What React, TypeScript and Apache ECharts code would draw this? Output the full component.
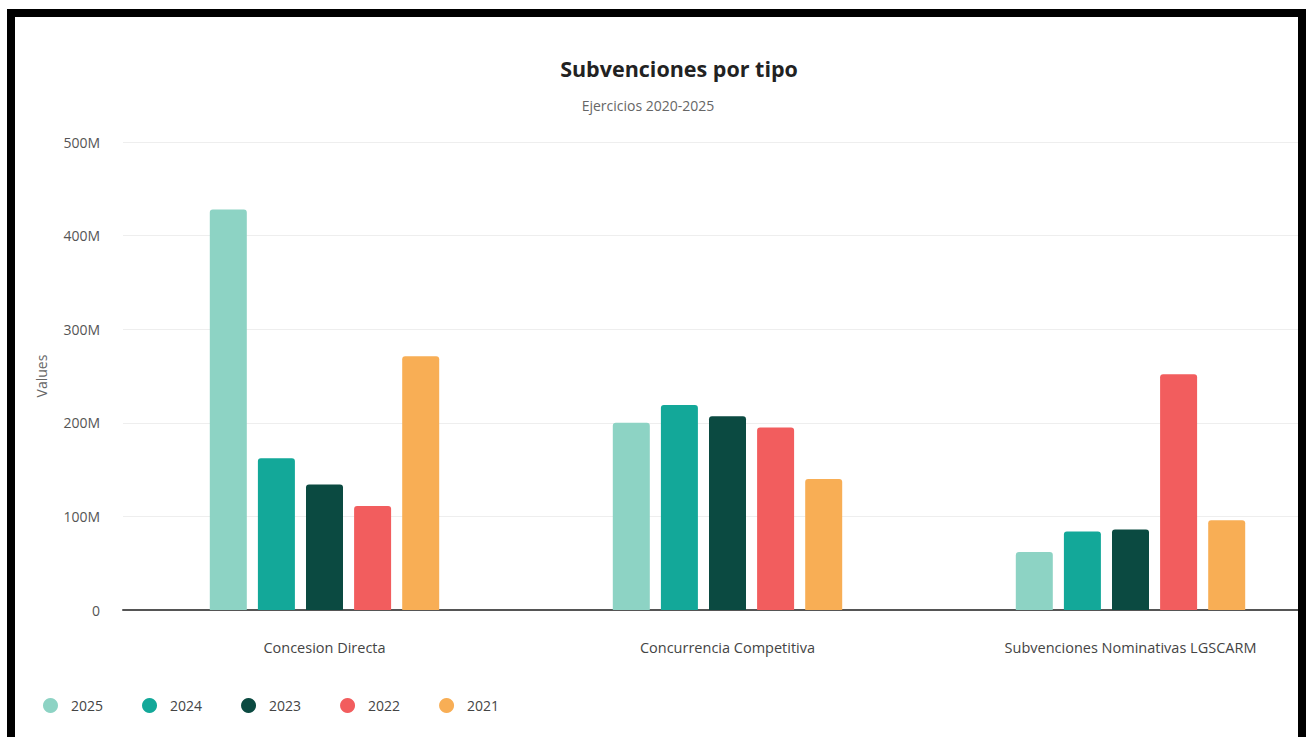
import React, { useEffect, useRef } from "react";
import * as echarts from "echarts";

const categories = ["Concesion Directa", "Concurrencia Competitiva", "Subvenciones Nominativas LGSCARM"];
const years = ["2025", "2024", "2023", "2022", "2021"];
const values2025 = [428e6, 200e6, 62e6];
const values2024 = [162e6, 219e6, 84e6];
const values2023 = [134e6, 207e6, 86e6];
const values2022 = [111e6, 195e6, 252e6];
const values2021 = [271e6, 140e6, 96e6];
const seriesValues = [values2025, values2024, values2023, values2022, values2021];
const colors = ["#8dd3c4", "#13a899", "#0b4a41", "#f25d5e", "#f8ae55"];
const yTicks = ["0", "100M", "200M", "300M", "400M", "500M"];

const FONT = "'Open Sans', 'Noto Sans', sans-serif";

export default function App() {
  const ref = useRef<HTMLDivElement>(null);
  useEffect(() => {
    document.body.style.margin = "0";
    const chart = echarts.init(ref.current!, undefined, { renderer: "svg" });
    chart.setOption({
      animation: false,
      backgroundColor: "#ffffff",
      textStyle: { fontFamily: FONT },
      grid: { left: 123, top: 142, width: 1209, height: 468, containLabel: false },
      legend: {
        data: years,
        left: 38,
        top: 693,
        icon: "circle",
        itemWidth: 15,
        itemHeight: 15,
        itemGap: 39,
        textStyle: { fontSize: 14, color: "#444", fontFamily: FONT, padding: [0, 0, 0, 8] },
      },
      xAxis: {
        type: "category",
        data: categories,
        axisLine: { show: true, lineStyle: { color: "#555", width: 2 } },
        axisTick: { show: false },
        axisLabel: { margin: 30, fontSize: 14.5, color: "#444", fontFamily: FONT },
      },
      yAxis: {
        type: "value",
        min: 0,
        max: 500e6,
        interval: 100e6,
        name: "Values",
        nameLocation: "middle",
        nameGap: 75,
        nameTextStyle: { fontSize: 14, color: "#666", fontFamily: FONT },
        axisLine: { show: false },
        axisTick: { show: false },
        splitLine: { lineStyle: { color: "#eeeeee", width: 1 } },
        axisLabel: {
          margin: 23,
          fontSize: 14,
          color: "#555",
          fontFamily: FONT,
          formatter: (v: number) => yTicks[Math.round(v / 100e6)],
        },
      },
      series: years.map((y, i) => ({
        name: y,
        type: "bar",
        data: seriesValues[i],
        barWidth: 37,
        barGap: "30%",
        itemStyle: { color: colors[i], borderRadius: [3, 3, 0, 0] },
      })),
      graphic: [
        {
          type: "text",
          x: 679,
          y: 68,
          z: 100,
          style: {
            text: "Subvenciones por tipo",
            fontSize: 21.5,
            fontWeight: "bold",
            fontFamily: FONT,
            fill: "#222",
            textAlign: "center",
            textVerticalAlign: "middle",
          },
        },
        {
          type: "text",
          x: 648,
          y: 105,
          z: 100,
          style: {
            text: "Ejercicios 2020-2025",
            fontSize: 14,
            fontFamily: FONT,
            fill: "#666",
            textAlign: "center",
            textVerticalAlign: "middle",
          },
        },
        { type: "rect", z: 200, shape: { x: 7, y: 9, width: 1299, height: 8 }, style: { fill: "#000" } },
        { type: "rect", z: 200, shape: { x: 7, y: 9, width: 8, height: 728 }, style: { fill: "#000" } },
        { type: "rect", z: 200, shape: { x: 1298, y: 9, width: 8, height: 728 }, style: { fill: "#000" } },
      ],
    });
    return () => chart.dispose();
  }, []);
  return (
    <div style={{ position: "fixed", left: 0, top: 0, width: 1306, height: 737, overflow: "hidden", background: "#fff" }}>
      <div ref={ref} style={{ position: "absolute", left: 0, top: 0, width: 1340, height: 737 }} />
    </div>
  );
}
